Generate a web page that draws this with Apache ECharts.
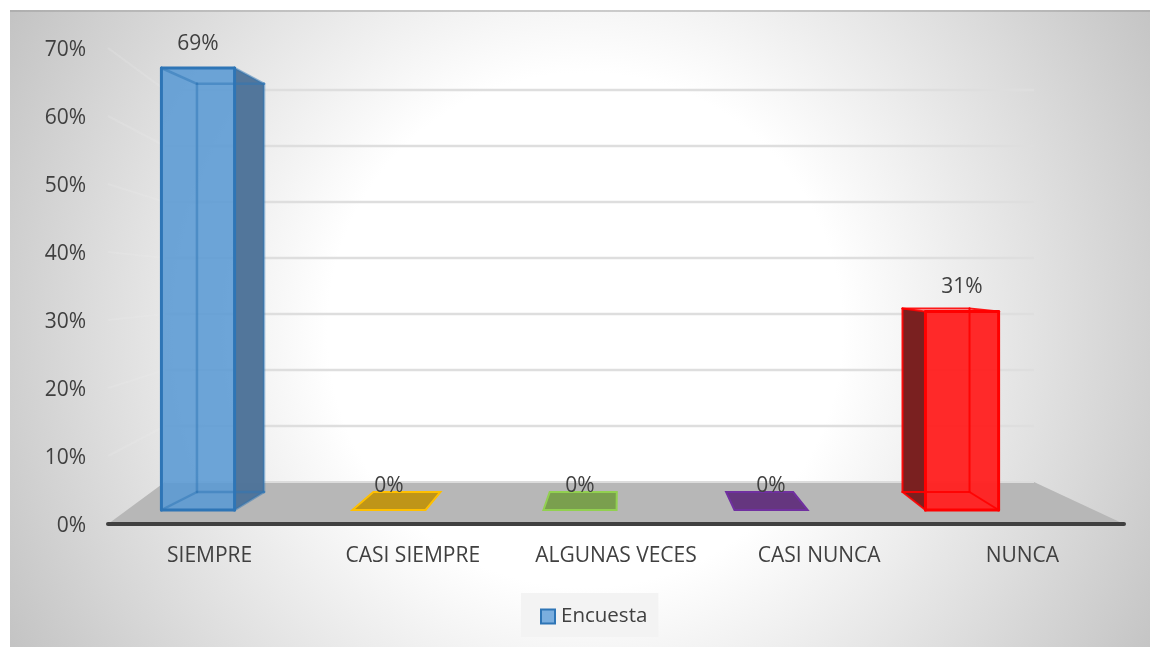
<!DOCTYPE html>
<html><head><meta charset="utf-8">
<style>html,body{margin:0;padding:0;background:#fff}#c{width:1157px;height:647px}</style>
<script src="https://cdn.jsdelivr.net/npm/echarts@6/dist/echarts.min.js"></script>
</head><body><div id="c"></div>
<script>
const categories = ['SIEMPRE','CASI SIEMPRE','ALGUNAS VECES','CASI NUNCA','NUNCA'];
const values = [69,0,0,0,31];
const tickValues = [0,10,20,30,40,50,60,70];
const seriesName = 'Encuesta';
const faceColors = ['#5a9ad4','#bf9518','#7a9f4e','#65367f','#ff2222'];
const edgeColors = ['#2e75b6','#ffc000','#92d050','#7030a0','#ff0000'];
const shadeColors = ['#4f7399','#bf9518','#7a9f4e','#65367f','#7a2020'];
const FONT = '"Open Sans", sans-serif';
const TEXT = '#404040';

// Perspective: screen position of an axis point on planes at increasing depth
const GRID = {left:108, right:33, top:48, bottom:123};
const wallDepth = {dx0:57, dx1:-90, dy:-42, sy:392/476};
const barFront = {sx:0.94, dx:-11.6, sy:0.942, dy:-14, half:0.18};
const barBack = {sx:0.868, dx:20.9, sy:0.87, dy:-32, half:0.165};

function barCorner(plane, px, py, base, side, band, origin){
  return [origin + (px-origin)*plane.sx + plane.dx + side*band*plane.half,
          base + plane.dy - (base-py)*plane.sy];
}

function renderWall(params, api){
  const cs = params.coordSys;
  const v = api.value(1);
  const y = api.coord([0,v])[1];
  const base = cs.y + cs.height;
  const backLeft = cs.x + wallDepth.dx0, backRight = cs.x + cs.width + wallDepth.dx1;
  const backY = base + wallDepth.dy - (base-y)*wallDepth.sy;
  const children = [];
  if (v === 0){
    children.push({type:'polygon', shape:{points:[[cs.x,base],[cs.x+cs.width,base],[backRight,backY],[backLeft,backY]]},
      style:{fill:'#b7b7b7'}});
    children.push({type:'line', shape:{x1:backLeft,y1:backY,x2:backRight,y2:backY}, style:{stroke:'#dcdcdc',lineWidth:2}});
  } else {
    children.push({type:'line', shape:{x1:cs.x,y1:y,x2:backLeft,y2:backY}, style:{stroke:'rgba(236,236,236,.22)',lineWidth:2}});
    children.push({type:'line', shape:{x1:backLeft,y1:backY,x2:backRight,y2:backY}, style:{stroke:'#dedede',lineWidth:2.5}});
  }
  return {type:'group', children};
}

function renderBar(params, api){
  const i = api.value(0), v = api.value(1);
  const band = api.size([1,0])[0];
  const [px,py] = api.coord([i,v]);
  const [,base] = api.coord([i,0]);
  const origin = api.coord([0,0])[0];
  const corner = (plane,side,top)=>barCorner(plane,px,top?py:base,base,side,band,origin);
  const fl=corner(barFront,-1,false), fr=corner(barFront,1,false), ftl=corner(barFront,-1,true), ftr=corner(barFront,1,true);
  const bl=corner(barBack,-1,false), br=corner(barBack,1,false), btl=corner(barBack,-1,true), btr=corner(barBack,1,true);
  const face=faceColors[i], edge=edgeColors[i], shade=shadeColors[i];
  const flat = v===0;
  const children=[];
  const poly=(pts,fill,op)=>children.push({type:'polygon',shape:{points:pts},style:{fill,opacity:op,stroke:null}});
  const seg=(a,b,w,op)=>children.push({type:'line',shape:{x1:a[0],y1:a[1],x2:b[0],y2:b[1]},style:{stroke:edge,lineWidth:w,opacity:op,lineCap:'round'}});
  if (flat){
    children.push({type:'polygon',shape:{points:[fl,fr,br,bl]},style:{fill:face,stroke:edge,lineWidth:2,lineJoin:'miter'}});
  } else {
    const rightDark = bl[0] > fl[0];
    if (rightDark){
      poly([ftr,btr,br,fr],shade,0.98);
      poly([ftl,ftr,fr,fl],face,0.88);
    } else {
      poly([ftl,btl,bl,fl],shade,1);
      poly([ftl,ftr,fr,fl],face,0.97);
    }
    // hidden back edges
    const op = rightDark?0.5:0.9;
    const w = rightDark?2.5:2;
    seg(btl,btr,w,op); seg(btl,bl,w,op); seg(bl,br,w,op); seg(btr,br,w,op);
    seg(ftl,btl,w,op); seg(fl,bl,w,op);
    seg(fr,br,w,op); seg(ftr,btr,w,op);
    // outer front edges
    seg(ftl,ftr,3,1); seg(ftl,fl,3,1); seg(ftr,fr,3,1); seg(fl,fr,3,1);
  }
  const cx=(fl[0]+fr[0])/2;
  children.push({type:'text',style:{text:v+'%',x:cx,y:ftl[1]-24,align:'center',verticalAlign:'middle',
    font:'21px '+FONT,fill:TEXT},z2:20});
  return {type:'group',children};
}

const chart = echarts.init(document.getElementById('c'));
chart.setOption({
  animation:false,
  graphic:[
    {type:'rect',z:-100,silent:true,shape:{x:10,y:10,width:1140,height:637},
      style:{fill:new echarts.graphic.RadialGradient(585,330,660,[
        {offset:0,color:'#ffffff'},{offset:0.39,color:'#ffffff'},{offset:1,color:'#c3c3c3'}],true)}},
    {type:'line',z:-99,silent:true,shape:{x1:10,y1:11,x2:1150,y2:11},style:{stroke:'rgba(150,150,150,.45)',lineWidth:2}}
  ],
  grid:{left:GRID.left,right:GRID.right,top:GRID.top,bottom:GRID.bottom},
  legend:{show:true,data:[seriesName],left:521,top:593,padding:[13,11,10,19],itemWidth:14,itemHeight:14,itemGap:0,
    icon:'rect',backgroundColor:'#f3f3f3',
    textStyle:{fontFamily:FONT,fontSize:20.5,color:TEXT,padding:[0,0,0,1]}},
  xAxis:{type:'category',data:categories,
    axisLine:{show:true,lineStyle:{color:TEXT,width:4,cap:'round'}},axisTick:{show:false},
    axisLabel:{color:TEXT,fontFamily:FONT,fontSize:21,margin:22,interval:0},splitLine:{show:false},z:5},
  yAxis:{type:'value',min:0,max:70,interval:10,
    axisLine:{show:false},axisTick:{show:false},splitLine:{show:false},
    axisLabel:{formatter:'{value}%',color:TEXT,fontFamily:FONT,fontSize:21,margin:22,verticalAlign:'top',lineHeight:4}},
  series:[
    {type:'custom',name:'wall',silent:true,z:1,clip:false,renderItem:renderWall,
      encode:{x:0,y:1},data:tickValues.map(v=>[0,v])},
    {type:'custom',name:seriesName,z:3,clip:false,renderItem:renderBar,encode:{x:0,y:1},
      itemStyle:{color:'#7aaedf',borderColor:edgeColors[0],borderWidth:2},
      data:values.map((v,i)=>[i,v])}
  ]
});
</script></body></html>
